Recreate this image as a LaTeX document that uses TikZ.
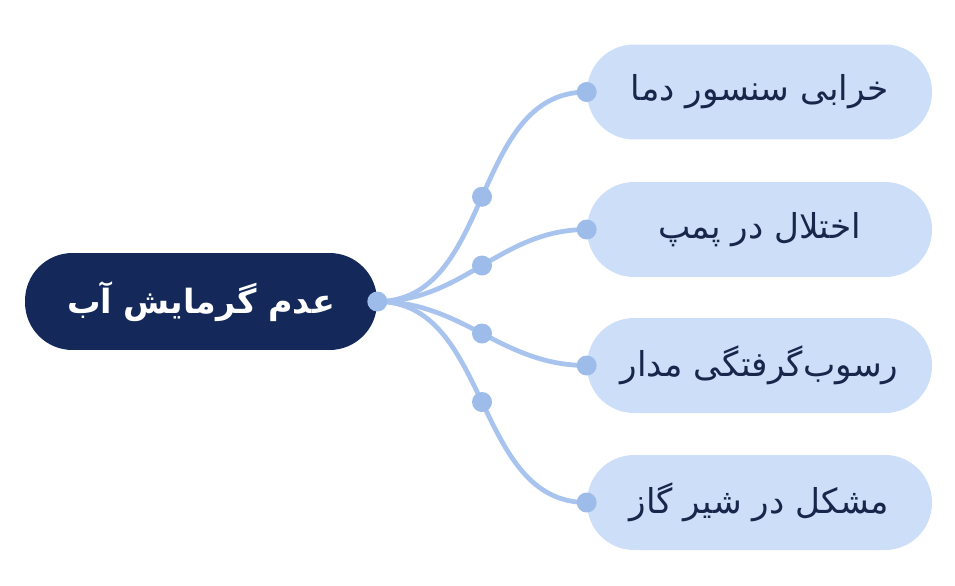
\documentclass[tikz,border=0pt]{standalone}
\usepackage{fontspec}
\newfontfamily\arabicfont[Script=Arabic]{DejaVu Sans}
\TeXXeTstate=1
\definecolor{rootblue}{HTML}{14295A}
\definecolor{leafblue}{HTML}{CCDEF8}
\definecolor{linkblue}{HTML}{A8C4EE}
\definecolor{dotblue}{HTML}{9DBCEA}
\definecolor{leaftext}{HTML}{17264A}
\begin{document}
\begin{tikzpicture}[
        x=0.02cm, y=-0.02cm,
        root/.style={rectangle, fill=rootblue, text=white, rounded corners=0.95cm, minimum width=7.04cm, minimum height=1.94cm, font=\arabicfont\bfseries\fontsize{19}{23}\selectfont},
        cause/.style={rectangle, fill=leafblue, text=leaftext, rounded corners=0.94cm, minimum width=6.9cm, minimum height=1.9cm, font=\arabicfont\fontsize{19.5}{23}\selectfont},
        link/.style={draw=linkblue, line width=2.7pt, line cap=round},
        dot/.style={circle, fill=dotblue, inner sep=0pt, minimum size=0.4cm}
    ]
    \useasboundingbox (0,0) rectangle (955,585);
    % Problem
    \node (root) at (201,301.5) [root] {\beginR عدم گرمایش آب\endR};
    % Causes
    \node (c1) at (759.5,92) [cause] {\beginR خرابی سنسور دما\endR};
    \node (c2) at (759.5,229.5) [cause] {\beginR اختلال در پمپ\endR};
    \node (c3) at (759.5,365.5) [cause] {\beginR رسوب‌گرفتگی مدار\endR};
    \node (c4) at (759.5,502.5) [cause] {\beginR مشکل در شیر گاز\endR};
    % Links
    \foreach \i in {1,...,4}
        \draw[link] (root.east) to[out=0, in=180] node[dot] (m\i) {} (c\i.west);
    \foreach \i in {1,...,4}
        \node[dot] (e\i) at (c\i.west) {};
    \node[dot] (s) at (root.east) {};
\end{tikzpicture}
\end{document}
